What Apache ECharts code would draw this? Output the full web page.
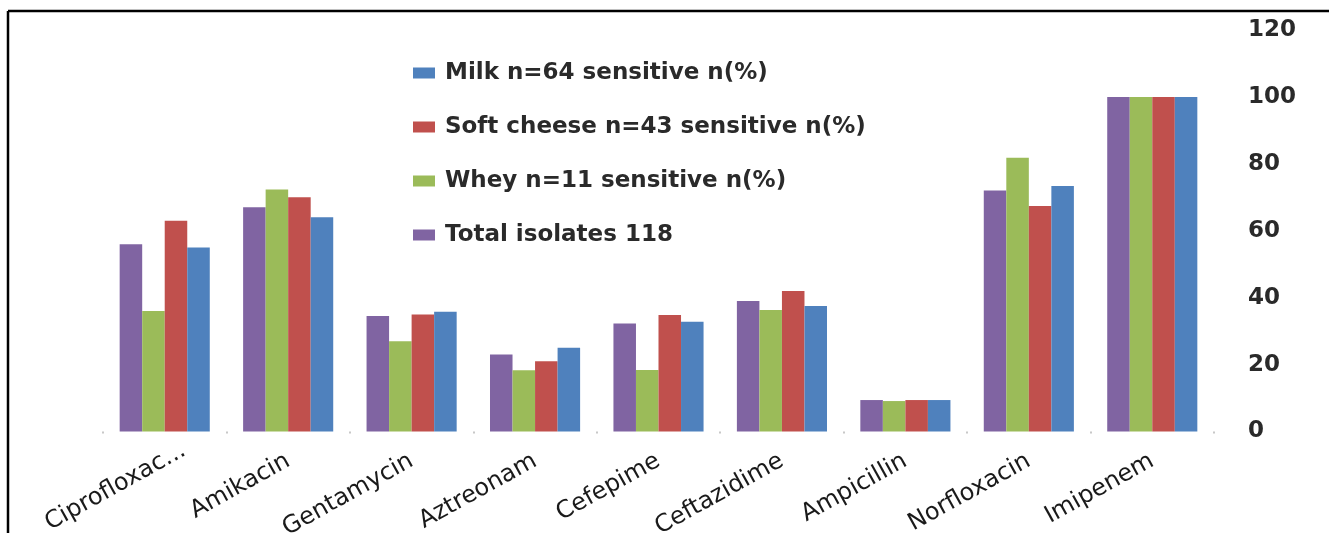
<!DOCTYPE html>
<html>
<head>
<meta charset="utf-8">
<script src="https://cdn.jsdelivr.net/npm/echarts@6/dist/echarts.min.js"></script>
<style>
html,body{margin:0;padding:0;background:#fff;}
#chart{width:1329px;height:533px;}
</style>
</head>
<body>
<div id="chart"></div>
<script>
const categories = ['Ciprofloxacin','Amikacin','Gentamycin','Aztreonam','Cefepime','Ceftazidime','Ampicillin','Norfloxacin','Imipenem'];
const seriesNames = ['Total isolates 118','Whey n=11 sensitive n(%)','Soft cheese n=43 sensitive n(%)','Milk n=64 sensitive n(%)'];
const totalValues = [56, 67, 34.5, 23, 32.3, 39, 9.4, 72, 100];
const wheyValues = [36, 72.3, 27, 18.3, 18.4, 36.3, 9.1, 81.8, 100];
const softCheeseValues = [63, 70, 35, 21, 34.8, 42, 9.4, 67.4, 100];
const milkValues = [55, 64, 35.8, 25, 32.8, 37.5, 9.4, 73.4, 100];
const yTicks = [0, 20, 40, 60, 80, 100, 120];

const colors = ['#8064A2', '#9BBB59', '#C0504D', '#4F81BD'];
const valuesList = [totalValues, wheyValues, softCheeseValues, milkValues];

const chart = echarts.init(document.getElementById('chart'), null, {renderer: 'canvas'});
const series = seriesNames.map((name, i) => ({
  name: name,
  type: 'bar',
  data: valuesList[i],
  barGap: '0%',
  barCategoryGap: '27%',
  itemStyle: {color: colors[i]}
}));

// the long first label sits a little further along its slope in the reference
const categoryItems = categories.map((c, i) => i === 0
  ? {value: c, textStyle: {padding: [0, -22, 0, 0]}}
  : c);

chart.setOption({
  animation: false,
  color: colors,
  grid: {left: 103, right: 115, top: 30, bottom: 101.5, containLabel: false, outerBoundsMode: 'none'},
  legend: {
    data: seriesNames.slice().reverse(),
    orient: 'vertical',
    left: 408,
    top: 56,
    itemWidth: 22,
    itemHeight: 11,
    itemGap: 30,
    icon: 'rect',
    textStyle: {fontFamily: 'DejaVu Sans', fontSize: 23, lineHeight: 24, fontWeight: 'bold', color: '#2a2a2a', padding: [0,0,0,5]}
  },
  xAxis: {
    type: 'category',
    data: categoryItems,
    axisLine: {show: false},
    axisTick: {show: true, length: 2, lineStyle: {color: '#c8c8c8', width: 2}},
    axisLabel: {
      interval: 0,
      rotate: 29,
      margin: 28,
      fontFamily: 'DejaVu Sans',
      fontSize: 24,
      color: '#1a1a1a',
      formatter: function (v) { return v.length > 12 ? v.slice(0, 11) + '...' : v; }
    }
  },
  yAxis: {
    type: 'value',
    position: 'right',
    min: yTicks[0],
    max: yTicks[yTicks.length - 1],
    interval: 20,
    splitLine: {show: false},
    axisLine: {show: false},
    axisTick: {show: false},
    axisLabel: {
      margin: 34,
      align: 'left',
      fontFamily: 'DejaVu Sans',
      fontSize: 23,
      fontWeight: 'bold',
      color: '#2a2a2a'
    }
  },
  series: series,
  graphic: [
    {type: 'line', shape: {x1: 8, y1: 11, x2: 1329, y2: 11}, style: {stroke: '#000', lineWidth: 2.5}},
    {type: 'line', shape: {x1: 8, y1: 11, x2: 8, y2: 533}, style: {stroke: '#000', lineWidth: 2.5}}
  ]
});
</script>
</body>
</html>
